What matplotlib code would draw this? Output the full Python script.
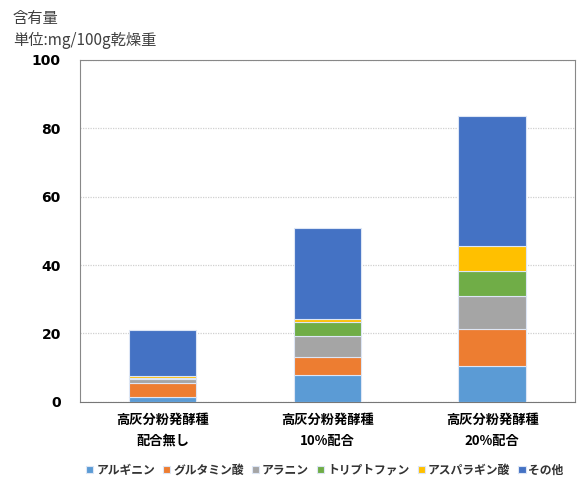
import matplotlib.pyplot as plt
import numpy as np

plt.rcParams['font.family'] = ['Noto Sans CJK JP', 'DejaVu Sans']

# カテゴリと各成分の値 (mg/100g乾燥重)
categories = ["高灰分粉発酵種\n配合無し", "高灰分粉発酵種\n10%配合", "高灰分粉発酵種\n20%配合"]
series_names = ["アルギニン", "グルタミン酸", "アラニン", "トリプトファン", "アスパラギン酸", "その他"]
arginine = [1.4, 7.8, 10.6]
glutamic = [4.2, 5.3, 10.8]
alanine = [1.2, 6.2, 9.4]
tryptophan = [0.2, 4.0, 7.5]
aspartic = [0.6, 1.0, 7.4]
others = [13.4, 26.5, 37.9]
colors = ["#5B9BD5", "#ED7D31", "#A5A5A5", "#70AD47", "#FFC000", "#4472C4"]

fig = plt.figure(figsize=(5.77, 4.87), dpi=100)
ax = fig.add_axes([0.139, 0.175, 0.857, 0.702])

x = np.arange(len(categories))
bottom = np.zeros(len(categories))
for name, vals, c in zip(series_names,
                         [arginine, glutamic, alanine, tryptophan, aspartic, others],
                         colors):
    ax.bar(x, vals, width=0.41, bottom=bottom, color=c, label=name,
           edgecolor="#dde6f5", linewidth=0.8, zorder=3)
    bottom += np.array(vals)

ax.set_xlim(-0.5, 2.5)
ax.set_ylim(0, 100)
ax.set_yticks([0, 20, 40, 60, 80, 100])
ax.yaxis.grid(True, color="#d0d0d0", linestyle=(0, (1, 1)), linewidth=0.9, zorder=0)
ax.set_xticks(x)
ax.set_xticklabels(categories, fontweight="bold", fontsize=9.5, linespacing=1.6)
for lbl in ax.get_yticklabels():
    lbl.set_fontweight("bold")
    lbl.set_fontsize(10)
    lbl.set_family("DejaVu Sans")
ax.tick_params(axis="both", length=0, pad=8)
ax.tick_params(axis="y", pad=14)
for s in ax.spines.values():
    s.set_color("#888888")
    s.set_linewidth(0.8)
ax.spines["bottom"].set_color("#777777")

fig.text(0.022, 0.963, "含有量", fontsize=11, color="#404040", va="center")
fig.text(0.022, 0.918, "単位:mg/100g乾燥重", fontsize=11, color="#404040", va="center")

leg = ax.legend(loc="center", bbox_to_anchor=(0.495, -0.20), ncol=6, frameon=False,
                fontsize=8.5, handlelength=0.6, handleheight=0.6, handletextpad=0.25,
                columnspacing=0.7)
for t in leg.get_texts():
    t.set_fontweight("bold")
    t.set_color("#333333")

fig.savefig("out.png", dpi=100)
